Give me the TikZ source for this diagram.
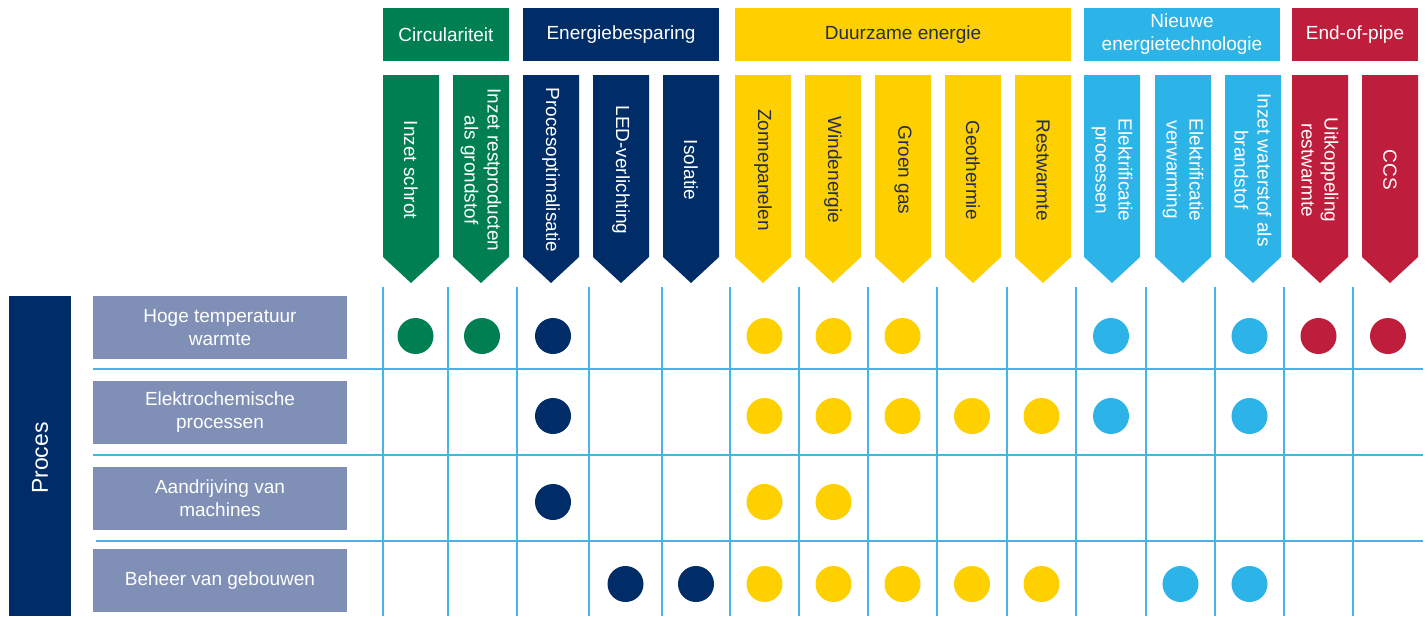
\documentclass[tikz,border=0pt]{standalone}
\usepackage{fontspec}
\setmainfont{Liberation Sans}
\definecolor{circgreen}{RGB}{0,128,82}
\definecolor{savenavy}{RGB}{0,45,104}
\definecolor{renewyellow}{RGB}{255,208,0}
\definecolor{newblue}{RGB}{44,180,232}
\definecolor{pipered}{RGB}{190,30,60}
\definecolor{rowgray}{RGB}{127,143,182}
\definecolor{gridblue}{RGB}{70,180,228}
\definecolor{darktext}{RGB}{35,45,80}
\tikzset{
  labelfont/.style={font=\fontsize{9.5}{11.5}\selectfont},
  grouphead/.style={labelfont, inner sep=0pt, minimum height=26.5pt, align=center, text=white},
  collabel/.style={labelfont, rotate=-90, align=center, inner sep=0pt, text=white},
  rowbox/.style={labelfont, fill=rowgray, text=white, minimum width=127pt, minimum height=31.5pt, inner sep=0pt, align=center},
  dot/.style={circle, minimum size=18pt, inner sep=0pt},
  gridline/.style={gridblue, line width=0.6pt},
  colarrow/.pic={\fill (0,0) -- (56,0) -- (56,182) -- (28,208) -- (0,182) -- cycle;}
}
\begin{document}
\begin{tikzpicture}[x=0.5pt,y=-0.5pt]
      \useasboundingbox (0,0) rectangle (1428,616);
      % group headers
      \node[grouphead, fill=circgreen, minimum width=63pt] (hcirc) at (446,34.5) {Circulariteit};
      \node[grouphead, fill=savenavy, minimum width=98pt] (hsave) at (621,34.5) {Energiebesparing};
      \node[grouphead, fill=renewyellow, text=darktext, minimum width=168pt] (hrenew) at (903,34.5) {Duurzame energie};
      \node[grouphead, fill=newblue, minimum width=98pt] (hnew) at (1182,34.5) {Nieuwe\\energietechnologie};
      \node[grouphead, fill=pipered, minimum width=63pt] (hpipe) at (1355,34.5) {End-of-pipe};
      % column arrows
      \pic[color=circgreen] at (383,75) {colarrow};
      \pic[color=circgreen] at (453,75) {colarrow};
      \pic[color=savenavy] at (523,75) {colarrow};
      \pic[color=savenavy] at (593,75) {colarrow};
      \pic[color=savenavy] at (663,75) {colarrow};
      \pic[color=renewyellow] at (735,75) {colarrow};
      \pic[color=renewyellow] at (805,75) {colarrow};
      \pic[color=renewyellow] at (875,75) {colarrow};
      \pic[color=renewyellow] at (945,75) {colarrow};
      \pic[color=renewyellow] at (1015,75) {colarrow};
      \pic[color=newblue] at (1084,75) {colarrow};
      \pic[color=newblue] at (1155,75) {colarrow};
      \pic[color=newblue] at (1225,75) {colarrow};
      \pic[color=pipered] at (1292,75) {colarrow};
      \pic[color=pipered] at (1362,75) {colarrow};
      % column labels
      \node[collabel] (schrot) at (411,170) {Inzet schrot};
      \node[collabel] (rest) at (481,170) {Inzet restproducten\\als grondstof};
      \node[collabel] (procopt) at (551,170) {Procesoptimalisatie};
      \node[collabel] (led) at (621,170) {LED-verlichting};
      \node[collabel] (isol) at (691,170) {Isolatie};
      \node[collabel, text=darktext] (zon) at (763,170) {Zonnepanelen};
      \node[collabel, text=darktext] (wind) at (833,170) {Windenergie};
      \node[collabel, text=darktext] (gas) at (903,170) {Groen gas};
      \node[collabel, text=darktext] (geo) at (973,170) {Geothermie};
      \node[collabel, text=darktext] (restw) at (1043,170) {Restwarmte};
      \node[collabel] (elproc) at (1112,170) {Elektrificatie\\processen};
      \node[collabel] (elverw) at (1183,170) {Elektrificatie\\verwarming};
      \node[collabel] (h2) at (1253,170) {Inzet waterstof als\\brandstof};
      \node[collabel] (uitk) at (1320,170) {Uitkoppeling\\restwarmte};
      \node[collabel] (ccs) at (1390,170) {CCS};
      % grid
      \draw[gridline] (383,287) -- (383,616) (448,287) -- (448,616) (517,287) -- (517,616)
        (589,287) -- (589,616) (662,287) -- (662,616) (730,287) -- (730,616)
        (799,287) -- (799,616) (868,287) -- (868,616) (937,287) -- (937,616)
        (1007,287) -- (1007,616) (1076,287) -- (1076,616) (1146,287) -- (1146,616)
        (1215,287) -- (1215,616) (1284,287) -- (1284,616) (1353,287) -- (1353,616);
      \draw[gridline] (93,369) -- (1423,369) (93,455) -- (1423,455) (96,541) -- (1423,541);
      % process rows
      \fill[savenavy] (9,296) rectangle (71,616);
      \node[rotate=90, text=white, font=\fontsize{11.5}{13}\selectfont] (proces) at (40,458) {Proces};
      \node[rowbox] (r1) at (220,327.5) {Hoge temperatuur\\warmte};
      \node[rowbox] (r2) at (220,412.5) {Elektrochemische\\processen};
      \node[rowbox] (r3) at (220,498.5) {Aandrijving van\\machines};
      \node[rowbox] (r4) at (220,580.5) {Beheer van gebouwen};
      % dots, row 1
      \node[dot,fill=circgreen] (d1a) at (415.5,336) {};
      \node[dot,fill=circgreen] (d1b) at (482,336) {};
      \node[dot,fill=savenavy] (d1c) at (553,336) {};
      \node[dot,fill=renewyellow] (d1f) at (764.5,336) {};
      \node[dot,fill=renewyellow] (d1g) at (833.5,336) {};
      \node[dot,fill=renewyellow] (d1h) at (902.5,336) {};
      \node[dot,fill=newblue] (d1k) at (1111,336) {};
      \node[dot,fill=newblue] (d1m) at (1249.5,336) {};
      \node[dot,fill=pipered] (d1n) at (1318.5,336) {};
      \node[dot,fill=pipered] (d1o) at (1388,336) {};
      % dots, row 2
      \node[dot,fill=savenavy] (d2c) at (553,416) {};
      \node[dot,fill=renewyellow] (d2f) at (764.5,416) {};
      \node[dot,fill=renewyellow] (d2g) at (833.5,416) {};
      \node[dot,fill=renewyellow] (d2h) at (902.5,416) {};
      \node[dot,fill=renewyellow] (d2i) at (972,416) {};
      \node[dot,fill=renewyellow] (d2j) at (1041.5,416) {};
      \node[dot,fill=newblue] (d2k) at (1111,416) {};
      \node[dot,fill=newblue] (d2m) at (1249.5,416) {};
      % dots, row 3
      \node[dot,fill=savenavy] (d3c) at (553,502) {};
      \node[dot,fill=renewyellow] (d3f) at (764.5,502) {};
      \node[dot,fill=renewyellow] (d3g) at (833.5,502) {};
      % dots, row 4
      \node[dot,fill=savenavy] (d4d) at (625.5,584) {};
      \node[dot,fill=savenavy] (d4e) at (696,584) {};
      \node[dot,fill=renewyellow] (d4f) at (764.5,584) {};
      \node[dot,fill=renewyellow] (d4g) at (833.5,584) {};
      \node[dot,fill=renewyellow] (d4h) at (902.5,584) {};
      \node[dot,fill=renewyellow] (d4i) at (972,584) {};
      \node[dot,fill=renewyellow] (d4j) at (1041.5,584) {};
      \node[dot,fill=newblue] (d4l) at (1180.5,584) {};
      \node[dot,fill=newblue] (d4m) at (1249.5,584) {};
    \end{tikzpicture}
\end{document}
